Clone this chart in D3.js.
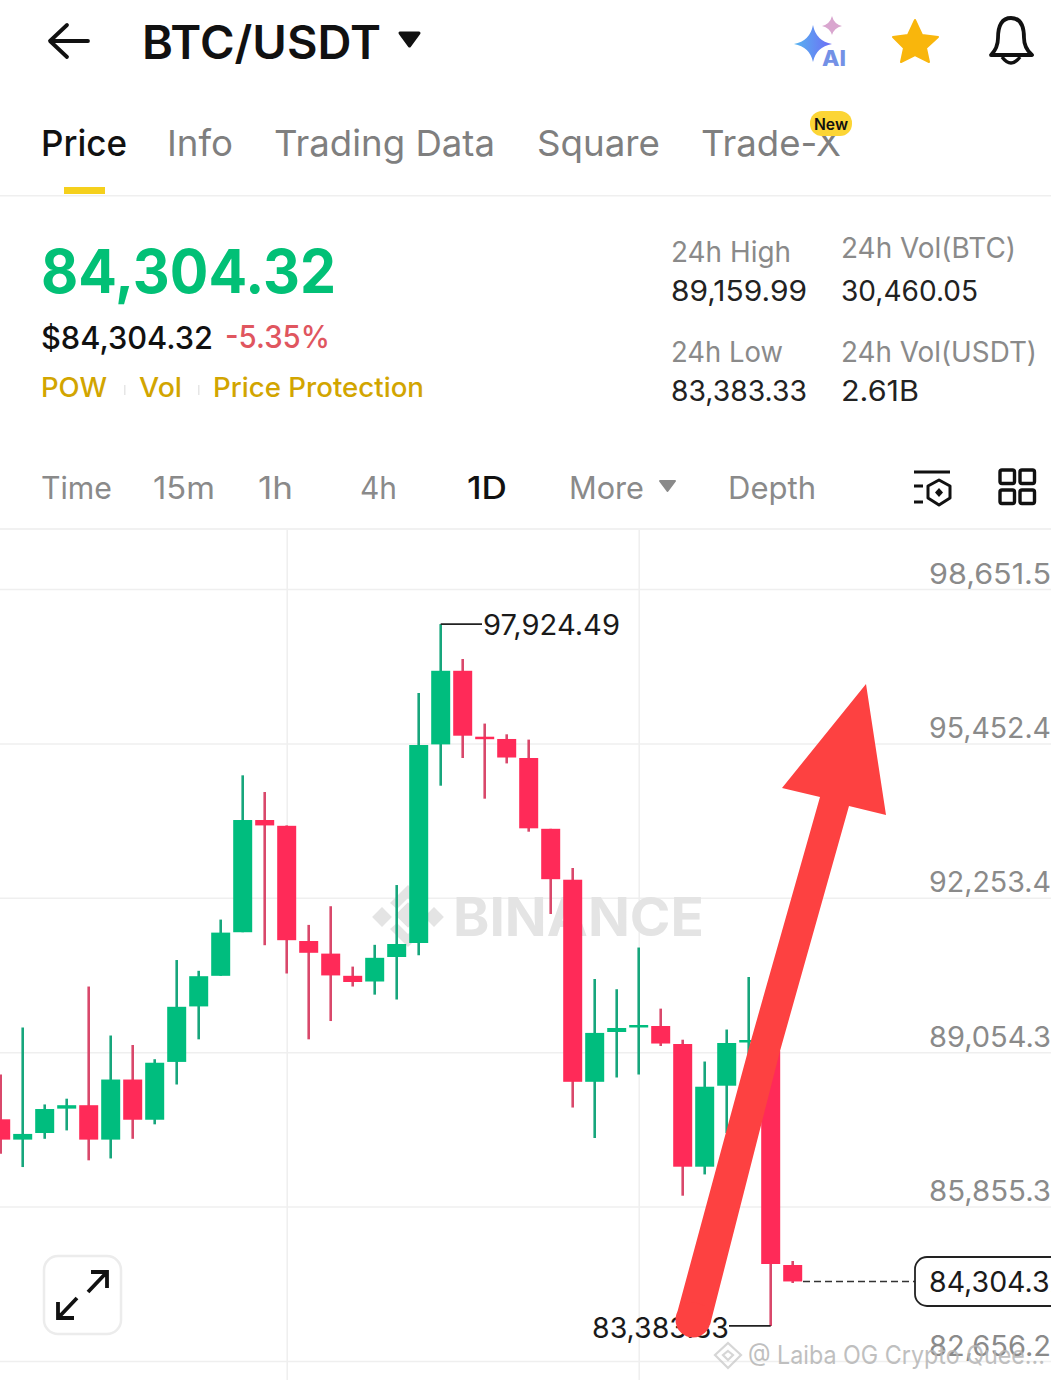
<!DOCTYPE html>
<html><head><meta charset="utf-8">
<script src="https://cdn.jsdelivr.net/npm/d3@7"></script>
<style>html,body{margin:0;padding:0;background:#fff;overflow:hidden}svg{display:block;font-family:Inter,"Noto Sans",sans-serif}</style>
</head><body><div id="c"></div>
<script>
const opens=[87664,87243,87380,87885,87956,87243,88488,87655,88853,90003,90637,91540,93865,93745,91358,91097,90637,90519,91027,91317,95432,96957,95591,95544,95150,93683,92628,88441,89473,89576,89597,89224,86682,88360,89265,89083,84645];
const closes=[87243,87361,87877,87956,87243,88488,87655,88836,89995,90629,91532,93865,93753,91375,91114,90645,90509,91010,91296,95419,96957,95612,95564,95160,93693,92639,88441,89454,89556,89618,89234,86682,88339,89245,89307,84666,84304.32];
const highs=[88592,89566,87972,88091,90415,89400,89203,88909,90964,90741,91802,94791,94445,93753,91692,92079,90828,91279,92518,96497,97924.49,97201,95863,95641,95531,93683,92871,90571,90359,91223,89957,89313,88861,89524,90612,89120,84728];
const lows=[86949,86675,87260,87434,86814,86853,87260,87560,88385,89321,90637,91540,91271,90685,89321,89700,90415,90247,90146,91062,94576,95150,94307,95038,93623,91918,87908,87276,88530,88592,89183,86081,86522,87380,88706,83383.33,84272];
const priceTicks=[98651.5,95452.4,92253.4,89054.3,85855.3,82656.2];
const priceTickLabels=["98,651.5","95,452.4","92,253.4","89,054.3","85,855.3","82,656.2"];
const verticalGridAt=[13,29];
const lastPrice=84304.32, highest=97924.49, lowest=83383.33;
const tabs=["Price","Info","Trading Data","Square","Trade-X"];
const intervals=["Time","15m","1h","4h","1D","More","Depth"];
const tags=["POW","Vol","Price Protection"];

const W=1051,H=1380;
const svg=d3.select("#c").append("svg").attr("width",W).attr("height",H).attr("viewBox",`0 0 ${W} ${H}`);
const T=(s,x,y,size,fill,weight=400,len=null)=>{const t=svg.append("text").attr("x",x).attr("y",y).attr("font-size",size).attr("fill",fill).attr("font-weight",weight).text(s);if(len)t.attr("textLength",len).attr("lengthAdjust","spacingAndGlyphs");return t;};

const indexes=d3.range(opens.length);
const x=d3.scalePoint().domain(indexes).range([0.7,792.7]);
const y=d3.scaleLinear().domain([82656.2,98651.5]).range([1361,589]);
const bodyW=19;

// ---- Header
svg.append("path").attr("d","M88 41H51M67 25L50 41L67 57").attr("fill","none").attr("stroke","#111").attr("stroke-width",3.8).attr("stroke-linecap","round").attr("stroke-linejoin","round");
T("BTC/USDT",142,59,46,"#111",600,239);
svg.append("path").attr("d","M400 33H419L409.5 46Z").attr("fill","#111").attr("stroke","#111").attr("stroke-width",3).attr("stroke-linejoin","round");
const defs=svg.append("defs");
const g1=defs.append("linearGradient").attr("id","ai").attr("x1","0").attr("x2","1").attr("y1","0.5").attr("y2","0.5");
g1.append("stop").attr("offset",0).attr("stop-color","#55b4f0");g1.append("stop").attr("offset",1).attr("stop-color","#6f6cf5");
svg.append("path").attr("d","M813 25Q816 41 832 44Q816 47 813 62Q810 47 794 44Q810 41 813 25Z").attr("fill","url(#ai)");
svg.append("path").attr("d","M832 16Q834 24 842 26Q834 28 832 35Q830 28 822 26Q830 24 832 16Z").attr("fill","#d9a6cf");
T("AI",822,66,21,"#7391e6",800,24);
svg.append("path").attr("d","M915 20L922 35L938 37L926 48L929 62L915 55L901 62L904 48L893 37L908 35Z").attr("fill","#f9b60c").attr("stroke","#f9b60c").attr("stroke-width",2).attr("stroke-linejoin","round");
svg.append("path").attr("d","M991 55Q998 48 998 38Q998 18 1011 18Q1024 18 1024 38Q1024 48 1032 55Z").attr("fill","none").attr("stroke","#111").attr("stroke-width",3.8).attr("stroke-linejoin","round");
svg.append("path").attr("d","M1002 57Q1011 69 1020 57").attr("fill","none").attr("stroke","#111").attr("stroke-width",3.4);

// ---- Tabs
const tabX=[41,167,274,537,701], tabW=[86,66,221,123,140];
tabs.forEach((s,i)=>T(s,tabX[i],156,36,i==0?"#111":"#7f7f7f",i==0?500:400,tabW[i]));
svg.append("rect").attr("x",64).attr("y",187).attr("width",41).attr("height",7).attr("fill","#f5d01c");
svg.append("rect").attr("x",0).attr("y",195).attr("width",W).attr("height",1.5).attr("fill","#efefef");
svg.append("rect").attr("x",810).attr("y",111).attr("width",42).attr("height",25).attr("rx",12).attr("fill","#fcd535");
T("New",814,130,16,"#111",600,34);

// ---- Price block
T(d3.format(",.2f")(lastPrice),41,293,60,"#02c076",700,295);
T("$"+d3.format(",.2f")(lastPrice),41,349,31,"#111",500,172);
T("-5.35%",225,348,31,"#e0565f",500,105);
const tagX=[41,139,213], tagW=[66,43,211];
tags.forEach((s,i)=>T(s,tagX[i],397,27,"#d2a500",500,tagW[i]));
[124,198].forEach(v=>svg.append("rect").attr("x",v).attr("y",385).attr("width",1.5).attr("height",10).attr("fill","#e6e6e6"));
const G="#8a8a8a",D="#222";
T("24h High",671,262,28,G,400,120);T("89,159.99",671,301,28,D,400,136);
T("24h Vol(BTC)",841,258,28,G,400,175);T("30,460.05",841,301,28,D,400,137);
T("24h Low",671,362,28,G,400,112);T("83,383.33",671,401,28,D,400,136);
T("24h Vol(USDT)",841,362,28,G,400,196);T("2.61B",841,401,28,D,400,78);

// ---- Interval row
const intX=[41,153,258,360,467,569,728], intW=[71,62,35,37,40,75,88];
intervals.forEach((s,i)=>T(s,intX[i],499,31,i==4?"#111":"#8a8a8a",i==4?500:400,intW[i]));
svg.append("path").attr("d","M660 481H675L667.5 491Z").attr("fill","#8a8a8a").attr("stroke","#8a8a8a").attr("stroke-width",2).attr("stroke-linejoin","round");
svg.append("path").attr("d","M914 472H950M914 486H923M914 502H923").attr("stroke","#111").attr("stroke-width",3).attr("fill","none");
svg.append("path").attr("d","M939 480L950 486V498L939 505L928 498V486Z").attr("stroke","#111").attr("stroke-width",3).attr("fill","none").attr("stroke-linejoin","round");
svg.append("path").attr("d","M939 488L943 492.5L939 497L935 492.5Z").attr("fill","#111");
[[1000,470],[1020,470],[1000,490],[1020,490]].forEach(p=>svg.append("rect").attr("x",p[0]).attr("y",p[1]).attr("width",14.5).attr("height",13.5).attr("rx",2).attr("fill","none").attr("stroke","#111").attr("stroke-width",3.4));
svg.append("rect").attr("x",0).attr("y",528).attr("width",W).attr("height",2).attr("fill","#f1f1f1");

// ---- Grid + axes
const grid="#efefef";
const yGrid=svg.append("g").call(d3.axisLeft(y).tickValues(priceTicks).tickSize(-W).tickFormat(""));
yGrid.select(".domain").remove();yGrid.selectAll("line").attr("stroke",grid).attr("stroke-width",1.5);
const xGrid=svg.append("g").attr("transform","translate(0,1380)").call(d3.axisBottom(x).tickValues(verticalGridAt).tickSize(-850).tickFormat(""));
xGrid.select(".domain").remove();xGrid.selectAll("line").attr("stroke",grid).attr("stroke-width",1.5);

// ---- BINANCE watermark
const wm="#e4e4e4";
const logo=svg.append("g").attr("transform","translate(408,915)").attr("fill",wm);
[[0,0,9],[-26,2,7],[26,2,7]].forEach(d=>logo.append("rect").attr("x",d[0]-d[2]).attr("y",d[1]-d[2]).attr("width",2*d[2]).attr("height",2*d[2]).attr("transform",`rotate(45 ${d[0]} ${d[1]})`));
logo.append("path").attr("d","M0 -30L18 -12L11 -6L0 -17L-11 -6L-18 -12ZM0 32L18 14L11 8L0 19L-11 8L-18 14Z");
T("BINANCE",453,936,53,wm,700,251);

// ---- Candles
const GREEN="#00bd7e",RED="#ff2a58",GW="#17a67c",RW="#d9486b";
const isUp=i=>closes[i]>=opens[i];
const candles=svg.append("g").selectAll("g").data(indexes).join("g");
candles.append("line").attr("x1",i=>x(i)).attr("x2",i=>x(i)).attr("y1",i=>y(highs[i])).attr("y2",i=>y(lows[i])).attr("stroke",i=>isUp(i)?GW:RW).attr("stroke-width",2.6);
candles.append("rect").attr("x",i=>x(i)-bodyW/2).attr("width",bodyW)
 .attr("y",i=>y(Math.max(opens[i],closes[i])))
 .attr("height",i=>Math.max(2.5,Math.abs(y(opens[i])-y(closes[i]))))
 .attr("fill",i=>isUp(i)?GREEN:RED);

// ---- Extremes
const hiI=highs.indexOf(highest),loI=lows.indexOf(lowest);
svg.append("line").attr("x1",x(hiI)).attr("x2",482).attr("y1",y(highest)).attr("y2",y(highest)).attr("stroke","#222").attr("stroke-width",1.6);
T(d3.format(",.2f")(highest),483,635,28,"#1a1a1a",400,137);
svg.append("line").attr("x1",729).attr("x2",x(loI)).attr("y1",y(lowest)).attr("y2",y(lowest)).attr("stroke","#222").attr("stroke-width",1.6);
T(d3.format(",.2f")(lowest),592,1338,28,"#1a1a1a",400,137);

// ---- Price axis labels
const yAxis=svg.append("g").attr("transform","translate(929,0)").call(d3.axisRight(y).tickValues(priceTicks).tickSize(0).tickPadding(0).tickFormat((d,i)=>priceTickLabels[i]));
yAxis.select(".domain").remove();
yAxis.selectAll("text").attr("font-family","Inter,'Noto Sans',sans-serif").attr("font-size",28).attr("fill","#8a8a8a").attr("dy",-6).attr("x",0).attr("dominant-baseline","auto").attr("textLength",122).attr("lengthAdjust","spacingAndGlyphs");

// ---- Last price
svg.append("line").attr("x1",803).attr("x2",915).attr("y1",y(lastPrice)).attr("y2",y(lastPrice)).attr("stroke","#333").attr("stroke-width",1.6).attr("stroke-dasharray","7 4");
svg.append("rect").attr("x",915).attr("y",1257).attr("width",160).attr("height",49).attr("rx",12).attr("fill","#fff").attr("stroke","#222").attr("stroke-width",1.8);
T(d3.format(",.2f")(lastPrice),929,1292,28,"#1a1a1a",400,138);

// ---- Expand button
svg.append("rect").attr("x",44).attr("y",1256).attr("width",77).attr("height",78).attr("rx",14).attr("fill","#fff").attr("stroke","#ececec").attr("stroke-width",2.5);
svg.append("path").attr("d","M88 1292L107 1272M91 1272H107V1288M77 1298L58 1318M58 1302V1318H74").attr("fill","none").attr("stroke","#111").attr("stroke-width",3.8);

// ---- Arrow overlay
const ARW="#fd4141";
const arrowLine=d3.line().curve(d3.curveLinear);
svg.append("path").attr("d",arrowLine([[866,684],[886,815],[849,806],[780,1051],[710,1325],[676,1317],[748,1051],[820,797],[782,788]])+"Z").attr("fill",ARW);
svg.append("circle").attr("cx",693).attr("cy",1320).attr("r",17.5).attr("fill",ARW);

// ---- Bottom watermark
const bw=svg.append("g").attr("opacity",.75);
const wl=bw.append("g").attr("transform","translate(728,1355)").attr("fill","none").attr("stroke","#c9c9c9").attr("stroke-width",2.2);
wl.append("path").attr("d","M0 -12L13 0L0 13L-13 0Z");
wl.append("path").attr("d","M0 -4L5 0L0 5L-5 0Z");
T("@ Laiba OG Crypto Quee...",748,1364,25,"#b5b5b5",400,297).attr("opacity",.85);
</script></body></html>
